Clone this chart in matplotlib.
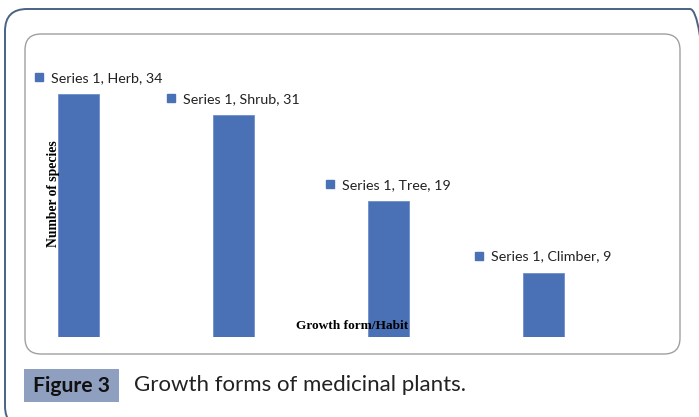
import matplotlib
matplotlib.use('Agg')
import matplotlib.pyplot as plt
from matplotlib.patches import FancyBboxPatch, Rectangle
from matplotlib.transforms import IdentityTransform, offset_copy

categories = ['Herb', 'Shrub', 'Tree', 'Climber']
species = [34, 31, 19, 9]
series_name = 'Series 1'

W, H = 699, 417
DPI = 100
BLUE = '#4a71b6'

fig = plt.figure(figsize=(W / DPI, H / DPI), dpi=DPI)
fig.patch.set_facecolor('white')


def px(x, y):
    # pixel from top-left -> display coords (origin bottom-left)
    return x, H - y


def box(x0, y0, x1, y1, r, **kw):
    xa, ya = px(x0, y1)
    p = FancyBboxPatch((xa, ya), x1 - x0, y1 - y0,
                       boxstyle=f'round,pad=0,rounding_size={r}',
                       transform=IdentityTransform(), **kw)
    fig.patches.append(p)
    return p


# outer frame and inner chart box
box(5, 9, 712, 428, 22, facecolor='none', edgecolor='#4a6285', lw=1.4)
box(25, 34, 680, 354, 16, facecolor='none', edgecolor='#a0a0a0', lw=1.0)

# axes placed so bars land where the reference has them
ax_l, ax_r = 1, 621
ax_bottom, ax_top = 337, 51
ax = fig.add_axes([ax_l / W, (H - ax_bottom) / H, (ax_r - ax_l) / W, (ax_bottom - ax_top) / H])
ax.set_xlim(-0.5, 3.5)
ax.set_ylim(0, 40)
ax.axis('off')

x = range(len(categories))
ax.bar(x, species, width=0.265, color=BLUE, edgecolor='#6f8fca', linewidth=0.6, zorder=2)

fig.canvas.draw()
renderer = fig.canvas.get_renderer()
label_font = dict(family='Lato', fontsize=10.3, color='#222222')
for i, (cat, v) in enumerate(zip(categories, species)):
    t = ax.text(i, v, f'{series_name}, {cat}, {v}', ha='left', va='center',
                transform=offset_copy(ax.transData, fig, x=0, y=16, units='dots'),
                zorder=4, **label_font)
    tw = t.get_window_extent(renderer).width
    total = 8 + 8 + tw
    cx = ax.transData.transform((i, v))[0]
    left = max(cx - total / 2, 35)
    dx = left - cx
    t.set_transform(offset_copy(ax.transData, fig, x=dx + 16, y=16, units='dots'))
    ax.plot(i, v, marker='s', markersize=5.8, color=BLUE, linestyle='none', clip_on=False,
            transform=offset_copy(ax.transData, fig, x=dx + 4, y=17, units='dots'), zorder=4)

# axis titles in bold serif, sitting over the bars like the original
fig.text(53 / W, (H - 194) / H, 'Number of species', rotation=90, ha='center', va='center',
         family='Liberation Serif', fontweight='bold', fontsize=9.8, zorder=5)
fig.text(352 / W, (H - 326) / H, 'Growth form/Habit', ha='center', va='center',
         family='Liberation Serif', fontweight='bold', fontsize=9.6, zorder=5)

# caption
fig.patches.append(Rectangle(px(24, 402), 95, 33, transform=IdentityTransform(),
                             facecolor='#8f9fbf', edgecolor='none'))
fig.text(71.5 / W, (H - 386) / H, 'Figure 3', ha='center', va='center',
         family='Lato', fontweight='bold', fontsize=15.2, color='#111111')
fig.text(134 / W, (H - 385) / H, 'Growth forms of medicinal plants.', ha='left', va='center',
         family='Lato', fontsize=16, color='#222222')

fig.savefig('out.png', dpi=DPI)
